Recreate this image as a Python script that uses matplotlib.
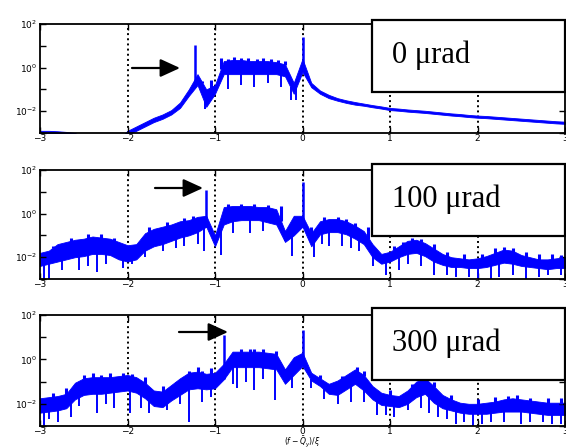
import numpy as np
import matplotlib.pyplot as plt
from matplotlib.patches import Rectangle, FancyArrowPatch
from matplotlib.ticker import NullFormatter, FixedLocator

# spectra, values are log10 of amplitude
x = np.round(np.arange(-30, 31) / 10, 2)

hi0 = [-2.9, -2.9, -2.92, -2.95, -3.0, -3.2, -3.4, -3.4, -3.4, -3.3,
       -2.9, -2.7, -2.5, -2.3, -2.15, -1.95, -1.6, -1.0, -0.3, -1.0,
       -0.8, 0.3, 0.35, 0.35, 0.3, 0.3, 0.3, 0.25, 0.15, -0.7,
       0.4, -0.7, -1.05, -1.25, -1.4, -1.5, -1.58, -1.65, -1.72, -1.78,
       -1.85, -1.88, -1.92, -1.95, -1.98, -2.02, -2.06, -2.1, -2.13, -2.17,
       -2.2, -2.22, -2.25, -2.28, -2.31, -2.34, -2.37, -2.4, -2.43, -2.46, -2.48]
lo0 = [-3.1, -3.1, -3.1, -3.1, -3.2, -3.4, -3.6, -3.6, -3.6, -3.5,
       -3.1, -2.9, -2.7, -2.5, -2.35, -2.15, -1.85, -1.3, -0.8, -1.8,
       -1.2, -0.3, -0.3, -0.3, -0.3, -0.3, -0.3, -0.3, -0.4, -1.2,
       -0.2, -0.9, -1.2, -1.4, -1.52, -1.62, -1.7, -1.75, -1.82, -1.88,
       -1.95, -1.98, -2.02, -2.05, -2.08, -2.12, -2.16, -2.2, -2.23, -2.27,
       -2.3, -2.32, -2.35, -2.38, -2.41, -2.44, -2.47, -2.5, -2.53, -2.56, -2.58]

hi100 = [-1.8, -1.7, -1.4, -1.3, -1.2, -1.15, -1.05, -1.1, -1.15, -1.3,
         -1.45, -1.4, -0.9, -0.7, -0.6, -0.5, -0.35, -0.3, -0.15, -0.1,
         -1.0, 0.3, 0.35, 0.35, 0.35, 0.3, 0.3, 0.2, -0.8, -0.1,
         -0.1, -0.9, -0.35, -0.25, -0.25, -0.35, -0.55, -0.8, -1.4, -1.85,
         -1.75, -1.5, -1.25, -1.2, -1.35, -1.6, -1.85, -2.0, -2.05, -2.1,
         -2.05, -1.95, -1.8, -1.65, -1.7, -1.9, -2.0, -2.1, -2.1, -2.05, -2.0]
lo100 = [-2.4, -2.3, -2.2, -2.1, -2.0, -1.95, -1.85, -1.85, -1.9, -2.1,
         -2.2, -2.1, -1.7, -1.5, -1.4, -1.25, -1.1, -1.0, -0.85, -0.6,
         -1.5, -0.5, -0.35, -0.3, -0.3, -0.3, -0.4, -0.5, -1.3, -1.0,
         -0.6, -1.5, -0.95, -0.85, -0.85, -0.95, -1.15, -1.4, -2.0, -2.3,
         -2.2, -2.0, -1.85, -1.8, -1.95, -2.2, -2.35, -2.45, -2.45, -2.5,
         -2.5, -2.45, -2.35, -2.25, -2.3, -2.4, -2.45, -2.5, -2.55, -2.5, -2.5]

hi300 = [-1.75, -1.7, -1.65, -1.55, -1.05, -0.85, -0.8, -0.8, -0.8, -0.75,
         -0.7, -0.8, -1.05, -1.4, -1.45, -1.15, -0.85, -0.6, -0.55, -0.65,
         -0.6, -0.2, 0.35, 0.35, 0.35, 0.35, 0.3, 0.25, -0.45, 0.1,
         0.3, -0.6, -0.85, -1.1, -0.95, -0.7, -0.45, -0.7, -1.2, -1.5,
         -1.6, -1.65, -1.4, -1.0, -0.85, -1.2, -1.6, -1.8, -1.95, -2.0,
         -2.0, -1.95, -1.9, -1.8, -1.75, -1.8, -1.85, -1.9, -1.95, -1.95, -1.95]
lo300 = [-2.4, -2.35, -2.3, -2.2, -1.8, -1.6, -1.55, -1.55, -1.5, -1.45,
         -1.4, -1.5, -1.75, -2.1, -2.15, -1.85, -1.6, -1.35, -1.3, -1.35,
         -1.3, -0.9, -0.35, -0.35, -0.35, -0.35, -0.4, -0.45, -1.1, -0.7,
         -0.3, -0.95, -1.2, -1.55, -1.6, -1.35, -1.1, -1.4, -1.8, -2.05,
         -2.1, -2.15, -2.0, -1.7, -1.55, -1.95, -2.2, -2.3, -2.4, -2.45,
         -2.45, -2.45, -2.4, -2.35, -2.35, -2.35, -2.4, -2.45, -2.5, -2.5, -2.5]

# narrow lines: position, top, base
peak0_x = [-1.23, 0.0]
peak0_top = [1.04, 1.42]
peak0_base = [-0.8, 0.0]
peak100_x = [-1.1, 0.0]
peak100_top = [1.09, 1.47]
peak100_base = [-0.6, -0.6]
peak300_x = [-0.9, 0.0]
peak300_top = [1.1, 1.32]
peak300_base = [-0.9, -0.3]

# downward noise spikes: position, bottom
dip0_x = [-1.12, -1.08, -0.85, -0.7, -0.55, -0.4, -0.25, -0.13, -0.07]
dip0_y = [-1.9, -1.6, -1.0, -0.8, -0.9, -0.7, -0.9, -1.5, -1.5]
dip100_x = [-2.95, -2.9, -2.75, -2.55, -2.45, -2.35, -2.25, -2.05, -1.95,
            -1.8, -1.6, -1.45, -1.35, -1.2, -1.13, -0.93, -0.8, -0.6, -0.45,
            -0.2, -0.12, 0.13, 0.22, 0.3, 0.45, 0.55, 0.65, 0.8, 0.95, 1.1,
            1.2, 1.35, 1.5, 1.65, 1.75, 1.9, 2.0, 2.15, 2.25, 2.4, 2.55,
            2.7, 2.8, 2.95]
dip100_y = [-3.0, -3.0, -2.6, -2.6, -2.4, -2.7, -2.3, -2.5, -2.3,
            -2.0, -1.7, -1.6, -1.5, -1.4, -1.7, -1.9, -0.9, -0.9, -0.8,
            -0.8, -1.95, -2.0, -1.4, -1.5, -1.5, -1.6, -1.7, -2.4, -2.8, -2.6,
            -2.3, -2.4, -2.8, -2.8, -2.9, -2.9, -3.0, -3.0, -2.9, -2.8, -3.0,
            -2.9, -2.8, -2.8]
dip300_x = [-2.95, -2.9, -2.8, -2.65, -2.55, -2.35, -2.25, -2.15, -1.97,
            -1.85, -1.75, -1.55, -1.4, -1.3, -1.15, -1.05, -0.8, -0.75,
            -0.65, -0.55, -0.45, -0.31, -0.12, 0.1, 0.25, 0.4, 0.55, 0.7,
            0.85, 0.95, 1.05, 1.2, 1.35, 1.45, 1.55, 1.65, 1.75, 1.85, 1.95,
            2.05, 2.15, 2.3, 2.5, 2.6, 2.75, 2.85, 2.95]
dip300_y = [-3.0, -2.7, -2.8, -2.6, -2.1, -2.4, -2.0, -2.2, -2.4,
            -2.2, -2.4, -2.3, -2.0, -2.8, -1.9, -1.7, -1.1, -1.3,
            -1.0, -1.4, -0.9, -1.85, -1.3, -1.3, -1.8, -2.0, -1.9, -1.9,
            -2.5, -2.5, -2.6, -2.3, -2.2, -2.4, -2.6, -2.7, -2.9, -2.8, -3.0,
            -2.9, -2.8, -2.8, -2.9, -2.8, -2.8, -2.9, -2.9]

# upward noise spikes: position, top
tooth0_x = [-1.15, -1.05, -0.93, -0.85, -0.78, -0.7, -0.62, -0.52, -0.45,
            -0.36, -0.28, -0.2]
tooth0_y = [-0.6, -0.55, 0.45, 0.4, 0.5, 0.42, 0.45, 0.4, 0.45, 0.38, 0.35, 0.3]
tooth100_x = [-2.85, -2.65, -2.45, -2.3, -2.15, -1.75, -1.55, -1.35, -1.25,
              -0.85, -0.7, -0.55, -0.4, -0.25, 0.1, 0.25, 0.4, 0.5, 0.6,
              0.75, 1.05, 1.15, 1.25, 1.35, 1.5, 1.65, 1.85, 2.05, 2.2,
              2.3, 2.4, 2.55, 2.7, 2.85, 2.95]
tooth100_y = [-1.5, -1.1, -0.95, -0.95, -1.1, -0.6, -0.4, -0.2, -0.1,
              0.45, 0.45, 0.45, 0.4, 0.35, -0.6, -0.15, -0.15, -0.25, -0.45,
              -0.6, -1.5, -1.3, -1.1, -1.15, -1.4, -1.75, -1.85, -1.85, -1.6,
              -1.55, -1.6, -1.75, -1.85, -1.85, -1.9]
tooth300_x = [-2.85, -2.7, -2.5, -2.4, -2.3, -2.2, -2.05, -1.95, -1.8,
              -1.6, -1.45, -1.3, -1.2, -1.15, -1.05, -0.7, -0.6, -0.55,
              -0.45, -0.3, 0.2, 0.45, 0.62, 0.7, 1.0, 1.25, 1.38, 1.5, 1.7,
              2.0, 2.2, 2.35, 2.45, 2.6, 2.8, 2.95]
tooth300_y = [-1.5, -1.3, -0.7, -0.6, -0.7, -0.6, -0.6, -0.65, -0.8,
              -1.2, -1.0, -0.5, -0.35, -0.5, -0.4, 0.45, 0.45, 0.45,
              0.45, 0.4, -0.7, -0.75, -0.35, -0.5, -1.4, -1.1, -0.8, -1.0, -1.6,
              -1.8, -1.7, -1.65, -1.6, -1.75, -1.75, -1.75]

labels = ['0 \u03bcrad', '100 \u03bcrad', '300 \u03bcrad']

panels = [
    (hi0, lo0, peak0_x, peak0_top, peak0_base, dip0_x, dip0_y, tooth0_x, tooth0_y),
    (hi100, lo100, peak100_x, peak100_top, peak100_base, dip100_x, dip100_y,
     tooth100_x, tooth100_y),
    (hi300, lo300, peak300_x, peak300_top, peak300_base, dip300_x, dip300_y,
     tooth300_x, tooth300_y),
]

W, H = 566, 448
fig = plt.figure(figsize=(W / 100, H / 100), dpi=100)

# axes boxes in pixels: top, bottom
ax_px = [(24, 133), (170, 279), (315, 426)]
box_px = [(20, 92), (164, 236), (308, 380)]
arrow_px = [((132, 68), (180, 68)), ((155, 188), (203, 188)), ((179, 332), (228, 332))]

blue = '#0000ff'
for i, (hi, lo, px, ptop, pbase, dx, dy, tx, ty) in enumerate(panels):
    top, bot = ax_px[i]
    ax = fig.add_axes([40 / W, 1 - bot / H, 525 / W, (bot - top) / H])
    hi = np.array(hi)
    lo = np.array(lo)
    ax.fill_between(x, 10 ** lo, 10 ** hi, color=blue, lw=0.6, edgecolor=blue)
    ax.vlines(px, 10 ** np.array(pbase), 10 ** np.array(ptop), color=blue, lw=1.8)
    dtop = np.interp(dx, x, lo) + 0.05
    ax.vlines(dx, 10 ** np.array(dy), 10 ** dtop, color=blue, lw=1.4)
    tbot = np.interp(tx, x, hi) - 0.05
    ax.vlines(tx, 10 ** tbot, 10 ** np.array(ty), color=blue, lw=2.2)

    ax.set_yscale('log')
    ax.set_xlim(-3, 3)
    ax.set_ylim(1e-3, 1e2)
    ax.set_xticks(range(-3, 4))
    ax.set_xticklabels(['\u22123', '\u22122', '\u22121', '0', '1', '2', '3'])
    ax.set_yticks([1e-2, 1e0, 1e2])
    ax.set_yticklabels([r'$10^{-2}$', r'$10^{0}$', r'$10^{2}$'])
    ax.yaxis.set_minor_locator(FixedLocator([1e-3, 1e-1, 1e1]))
    ax.yaxis.set_minor_formatter(NullFormatter())
    ax.tick_params(axis='both', which='both', direction='in', labelsize=6.5,
                   length=4, width=1, top=True, right=True, pad=2)
    ax.tick_params(axis='x', pad=1)
    for xv in range(-2, 3):
        ax.axvline(xv, color='black', ls=':', lw=1.4, zorder=0.5)
    for s in ax.spines.values():
        s.set_linewidth(1.3)

    # label box
    b0, b1 = box_px[i]
    fig.add_artist(Rectangle((372 / W, 1 - b1 / H), 193 / W, (b1 - b0) / H,
                             transform=fig.transFigure, facecolor='white',
                             edgecolor='black', lw=1.6, zorder=5))
    fig.text(392 / W, 1 - ((b0 + b1) / 2 - 1) / H, labels[i], family='Liberation Serif',
             fontsize=22, va='center', ha='left', zorder=6)

    (xa, ya), (xb, yb) = arrow_px[i]
    fig.add_artist(FancyArrowPatch((xa / W, 1 - ya / H), (xb / W, 1 - yb / H),
                                   transform=fig.transFigure,
                                   arrowstyle='-|>,head_length=1.2,head_width=0.55',
                                   mutation_scale=10, color='black', lw=1.6,
                                   shrinkA=0, shrinkB=0, zorder=6))

ax.set_xlabel(r'$(f - \bar{Q}_y)/\xi$', fontsize=5.5, va='center')
ax.xaxis.set_label_coords(0.5, -0.14)

fig.savefig('out.png', dpi=100)
